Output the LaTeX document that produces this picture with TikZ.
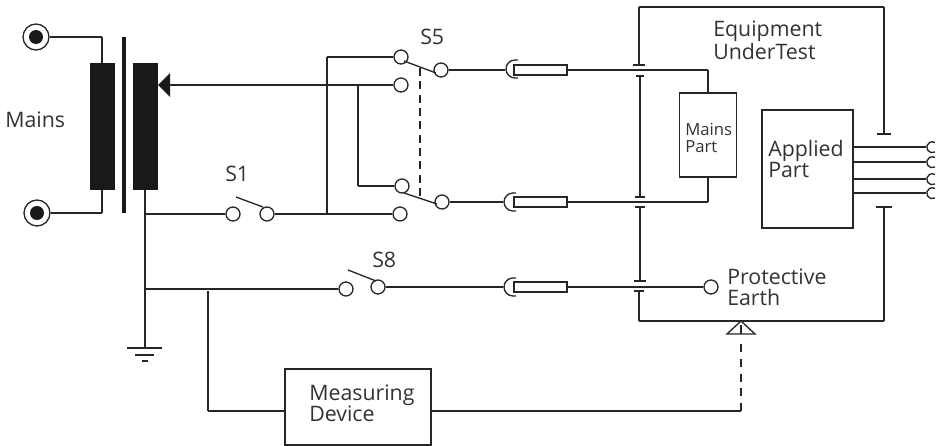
\documentclass[tikz,border=0pt]{standalone}
\usepackage{fontspec}
\setmainfont{Open Sans}
\usepackage{tikz}

\tikzset{
  wire/.style={line width=1pt,draw=black!85},
  term/.style={circle,draw=black!85,fill=white,line width=1pt,inner sep=0pt,minimum size=10.5pt},
  coil/.style={rectangle,fill=black!90,inner sep=0pt,minimum width=18.75pt,minimum height=95.25pt},
  unit/.style={rectangle,draw=black!85,fill=white,line width=1pt,inner sep=0pt},
  plugbody/.style={rectangle,draw=black!85,fill=white,line width=1pt,inner sep=0pt,minimum width=39.75pt,minimum height=7.5pt},
  lbl/.style={inner sep=0pt,anchor=base west,align=left,text=black!80,font=\fontsize{16}{15.75}\selectfont},
  small/.style={lbl,font=\fontsize{12.5}{12.75}\selectfont}
}

\begin{document}
\begin{tikzpicture}[x=0.75pt,y=-0.75pt]
  \useasboundingbox (0,0) rectangle (940,446);

  \node[term,minimum size=19.5pt] (mt) at (36,37) {};
  \node[term,minimum size=19.5pt] (mb) at (37,213) {};
  \fill[black!90] (mt) circle (7);
  \fill[black!90] (mb) circle (7);
  \node[coil] (pri) at (102,126.5) {};
  \node[coil] (sec) at (145,126.5) {};
  \fill[black!90] (122,37) rectangle (126,213);
  \fill[black!90] (158,85) -- (170,73) -- (170,97) -- cycle;

  \node[term] (s1a) at (233,214) {};
  \node[term] (s1b) at (267,214) {};
  \node[term] (s5a) at (401,57) {};
  \node[term] (s5b) at (401,85) {};
  \node[term] (s5c) at (441,70) {};
  \node[term] (s5d) at (402,186) {};
  \node[term] (s5e) at (400,214) {};
  \node[term] (s5f) at (442,202) {};
  \node[term] (s8a) at (346,289) {};
  \node[term] (s8b) at (378,287) {};
  \node[term] (pe) at (711,287) {};

  \node[plugbody] (p1) at (540.5,70) {};
  \node[plugbody] (p2) at (540.5,202) {};
  \node[plugbody] (p3) at (540.5,287) {};

  \node[unit,minimum width=42.75pt,minimum height=63pt] (mp) at (708,135) {};
  \node[unit,minimum width=68.25pt,minimum height=88.5pt] (ap) at (807.5,169) {};
  \node[unit,minimum width=109.5pt,minimum height=57pt] (md) at (358,407) {};

  \coordinate (c1) at (102,37);
  \coordinate (c2) at (102,213);
  \coordinate (c3) at (145,214);
  \coordinate (c4) at (145,348);
  \coordinate (c5) at (145,289);
  \coordinate (c6) at (327,214);
  \coordinate (c7) at (327,57);
  \coordinate (c8) at (358,85);
  \coordinate (c9) at (358,186);
  \coordinate (c10) at (170,85);
  \coordinate (c11) at (708,70);
  \coordinate (c12) at (708,202);
  \coordinate (c13) at (208,291);
  \coordinate (c14) at (208,411);
  \coordinate (c15) at (741,411);
  \coordinate (c16) at (741,341);

  \coordinate (l1) at (505,70);
  \coordinate (l2) at (503,202);
  \coordinate (l3) at (503,287);

  \coordinate (k1) at (639,65);
  \coordinate (k2) at (640,76);
  \coordinate (k3) at (640,197);
  \coordinate (k4) at (640,207);
  \coordinate (k5) at (640,281);
  \coordinate (k6) at (639,291);
  \coordinate (k7) at (884,134);
  \coordinate (k8) at (884,207);
  \coordinate (f1) at (639,7);
  \coordinate (f2) at (884,7);
  \coordinate (f3) at (639,321);
  \coordinate (f4) at (884,321);

  \foreach \from/\to in {mt/c1,c1/pri,mb/c2,c2/pri,c3/sec,c3/c4,c3/s1a,c5/s8a,
      s1b/c6,c6/s5e,c6/c7,c7/s5a,c10/s5b,c8/c9,c9/s5d,s5c/l1,s5f/l2,s8b/l3,
      p1/c11,c11/mp,p2/c12,c12/mp,p3/pe,c13/c14,
      k1/f1,f1/f2,f2/k7,k2/k3,k4/k5,k6/f3,f3/f4,f4/k8}
    \draw[wire] (\from) -- (\to);
  \draw[wire] (c14) -- (md.west |- c14);
  \draw[wire] (md.east |- c15) -- (c15);
  \draw[wire,dash pattern=on 6pt off 5pt] (c15) -- (c16);
  \draw[wire,dash pattern=on 6pt off 4pt] (420,68) -- (420,197);

  % switch arms
  \draw[wire] (236,197) -- (263,207);
  \draw[wire] (404,61) -- (436,73);
  \draw[wire] (404,193) -- (437,204);
  \draw[wire] (348,270) -- (376,281);

  % contact caps
  \foreach \x/\y/\w in {639/65/6,640/76/4,640/197/5,640/207/5,640/281/6,639/291/5,884/134/7,884/207/8}
    \draw[wire] (\x-\w,\y) -- (\x+\w,\y);

  % plug hoods
  \foreach \x/\y in {515/69,513/202,513/287}
    \draw[wire] (\x+3,\y+9) -- (\x,\y+9) arc (90:270:9) -- (\x+3,\y-9);

  % applied part leads
  \foreach \y [count=\i] in {147,162,179,193} {
    \coordinate (h\i) at (926,\y);
    \draw[wire] (ap.east |- h\i) -- (h\i);
    \draw[wire] (935,\y+5) arc (60:300:5.5);
  }

  % earth
  \draw[wire] (127,348) -- (162,348);
  \draw[wire] (135,355) -- (154,355);
  \draw[wire] (142,361) -- (148,361);

  % probe
  \draw[wire] (741,321) -- (727,334) -- (755,334) -- cycle;
  \draw[wire] (741,325) -- (741,334);

  \node[lbl] (mains) at (5,127) {Mains};
  \node[lbl] (s1) at (225,181) {S1};
  \node[lbl] (s5) at (420,44) {S5};
  \node[lbl] (s8) at (372,267) {S8};
  \node[lbl] (eut) at (713,59) {Equipment\\UnderTest};
  \node[small] (mpt) at (685,152) {Mains\\Part};
  \node[lbl] (apt) at (768,177) {Applied\\Part};
  \node[lbl] (pet) at (727,305) {Protective\\Earth};
  \node[lbl] (mdt) at (309,421) {Measuring\\Device};
\end{tikzpicture}
\end{document}
